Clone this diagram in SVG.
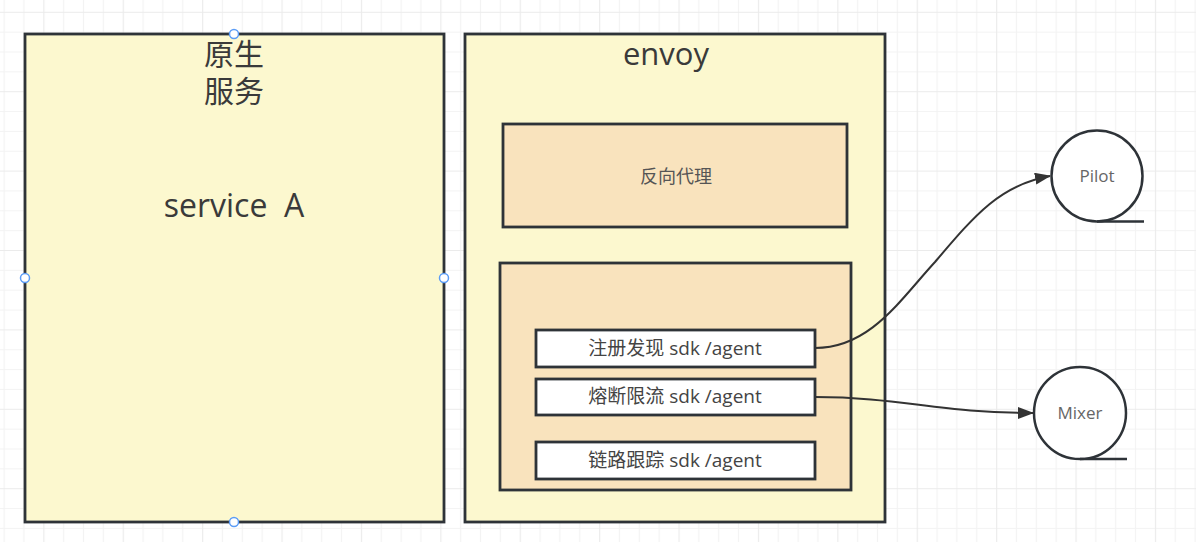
<svg xmlns="http://www.w3.org/2000/svg" width="1196" height="542" viewBox="0 0 1196 542">
<defs>
<pattern id="grid" patternUnits="userSpaceOnUse" x="43.3" y="11.8" width="79.4" height="79.4">
<path d="M0 0.5H79.4M0 20.35H79.4M0 40.2H79.4M0 60.05H79.4" stroke="#f3f3f3" stroke-width="1.2"/>
<path d="M0.5 0V79.4M20.35 0V79.4M40.2 0V79.4M60.05 0V79.4" stroke="#f3f3f3" stroke-width="1.2"/>
<path d="M0 0.5H79.4M0.5 0V79.4" stroke="#ebebeb" stroke-width="1.2"/>
</pattern>
<marker id="arrow" viewBox="0 0 16 12" refX="15" refY="6" markerWidth="16" markerHeight="12" markerUnits="userSpaceOnUse" orient="auto">
<path d="M0 0L16 6L0 12Z" fill="#333"/>
</marker>
<style>
.box{stroke:#2e3338;stroke-width:2.8}
.yel{fill:#fcf8cf}
.org{fill:#f9e3bd}
.wht{fill:#fff}
.t{font-family:"Open Sans","Noto Sans CJK SC",sans-serif;text-anchor:middle}
.big{font-size:30px;fill:#3a3a3a}
.sub{font-size:19px;fill:#444}
.mid{font-size:18px;fill:#555}
.sm{font-size:17px;fill:#666}
.conn{fill:none;stroke:#333;stroke-width:2}
.handle{fill:#fff;stroke:#5b9cf6;stroke-width:1.5}
.circ{fill:#fff;stroke:#2e3338;stroke-width:2.5}
</style>
</defs>
<rect width="1196" height="542" fill="#fff"/>
<rect width="1196" height="542" fill="url(#grid)"/>

<g id="service-a">
<rect class="box yel" x="25" y="34" width="419" height="488"/>
<text class="t big" x="234" y="65">原生</text>
<text class="t big" x="234" y="102">服务</text>
<text class="t big" x="234" y="217" style="font-size:32px;white-space:pre" xml:space="preserve">service  A</text>
<circle class="handle" cx="234" cy="34" r="4.5"/>
<circle class="handle" cx="25" cy="278" r="4.5"/>
<circle class="handle" cx="444" cy="278" r="4.5"/>
<circle class="handle" cx="234" cy="522" r="4.5"/>
</g>

<g id="envoy">
<rect class="box yel" x="465" y="34" width="420" height="488"/>
<text class="t big" x="666" y="65" style="font-size:31px">envoy</text>
</g>

<g id="reverse-proxy">
<rect class="box org" x="503" y="124" width="344" height="103"/>
<text class="t mid" x="676" y="183">反向代理</text>
</g>

<g id="sdk-group">
<rect class="box org" x="500" y="263" width="351" height="227"/>
</g>

<g id="registry-sdk">
<rect class="box wht" x="536" y="330" width="279" height="37"/>
<text class="t sub" x="675" y="355">注册发现 sdk /agent</text>
</g>

<g id="breaker-sdk">
<rect class="box wht" x="536" y="379" width="279" height="36"/>
<text class="t sub" x="675" y="403">熔断限流 sdk /agent</text>
</g>

<g id="tracing-sdk">
<rect class="box wht" x="536" y="442" width="279" height="37"/>
<text class="t sub" x="675" y="467">链路跟踪 sdk /agent</text>
</g>

<g id="pilot">
<circle class="circ" cx="1097" cy="176" r="45.5"/>
<path d="M1097 221.5H1144" stroke="#2e3338" stroke-width="2.5"/>
<text class="t sm" x="1097" y="182">Pilot</text>
</g>

<g id="mixer">
<circle class="circ" cx="1080" cy="413" r="46"/>
<path d="M1080 459H1127" stroke="#2e3338" stroke-width="2.5"/>
<text class="t sm" x="1080" y="419">Mixer</text>
</g>

<g id="connectors">
<path class="conn" marker-end="url(#arrow)" d="M815 348C870 348 900 300 935 262C975 215 1000 185 1050 176"/>
<path class="conn" marker-end="url(#arrow)" d="M815 397C900 397 940 413 1033 413"/>
</g>
</svg>
